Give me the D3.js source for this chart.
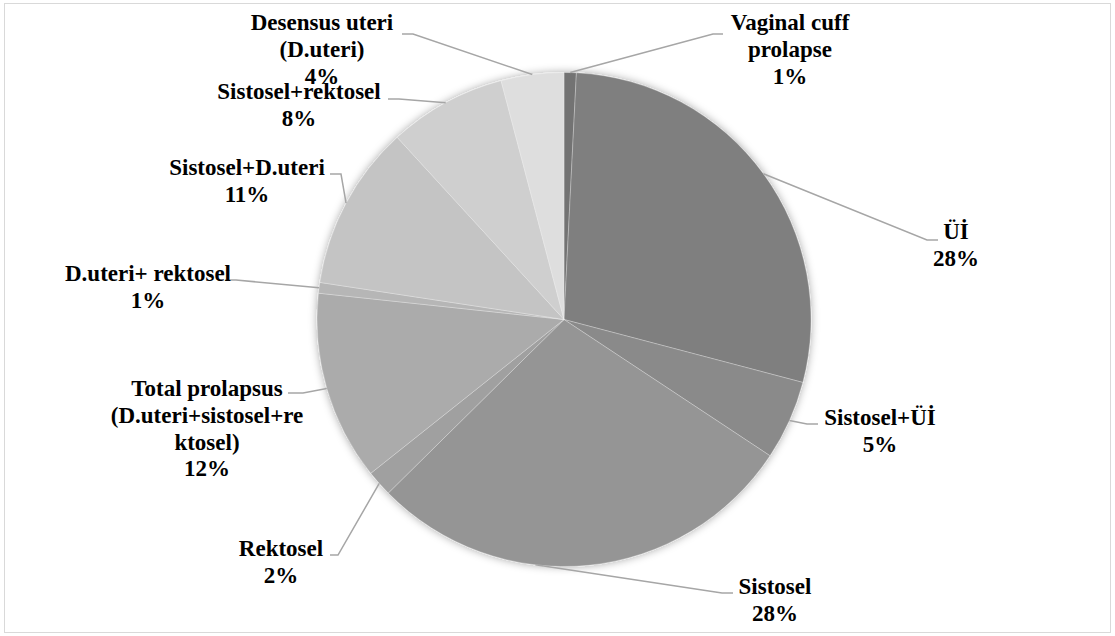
<!DOCTYPE html>
<html>
<head>
<meta charset="utf-8">
<script src="https://cdn.jsdelivr.net/npm/d3@7"></script>
<style>
  body { margin: 0; background: #fff; }
  svg { display: block; }
</style>
</head>
<body>
<script>
// Kategorien und Anteile (Prozent, im Uhrzeigersinn ab 12 Uhr)
const categories = [
  "Vaginal cuff\nprolapse",
  "Üİ",
  "Sistosel+Üİ",
  "Sistosel",
  "Rektosel",
  "Total prolapsus\n(D.uteri+sistosel+re\nktosel)",
  "D.uteri+ rektosel",
  "Sistosel+D.uteri",
  "Sistosel+rektosel",
  "Desensus uteri\n(D.uteri)"
];
const values = [0.8, 28.3, 5.2, 28.3, 1.7, 12.4, 0.7, 10.8, 7.7, 4.1];
const colors = ["#737373", "#7f7f7f", "#8a8a8a", "#959595", "#a0a0a0",
                "#ababab", "#b6b6b6", "#c4c4c4", "#cfcfcf", "#dedede"];

// Beschriftungs-Layout: Textmitte, erste Grundlinie, Anfang der Führungslinie, Knick,
// t = Anschlusspunkt auf dem Bogen (Anteil innerhalb des Segments)
const labelPos = [
  { cx: 790, y: 30,  sx: 723, sy: 34,  ex: 713 },
  { cx: 956, y: 239, sx: 938, sy: 240, ex: 927 },
  { cx: 880, y: 425, sx: 818, sy: 424, ex: 807 },
  { cx: 775, y: 594, sx: 733, sy: 593, ex: 722, t: 0.62 },
  { cx: 281, y: 556, sx: 330, sy: 555, ex: 338 },
  { cx: 207, y: 396, sx: 288, sy: 393, ex: 303 },
  { cx: 148, y: 281, sx: 225, sy: 280, ex: 236 },
  { cx: 247, y: 175, sx: 330, sy: 174, ex: 341 },
  { cx: 299, y: 99,  sx: 388, sy: 99,  ex: 399 },
  { cx: 322, y: 30,  sx: 402, sy: 34,  ex: 413 }
];

const width = 1115, height = 636;
const cx = 564, cy = 319.5, radius = 247;
const lineH = 26.8;
const fontFamily = "'Liberation Serif', 'DejaVu Serif', serif";

const svg = d3.select("body").append("svg")
  .attr("width", width)
  .attr("height", height);

// Rahmen
svg.append("rect")
  .attr("x", 4.5).attr("y", 3.5)
  .attr("width", 1106).attr("height", 629)
  .attr("fill", "#fff")
  .attr("stroke", "#d9d9d9")
  .attr("stroke-width", 1);

// Schatten
const defs = svg.append("defs");
const filter = defs.append("filter").attr("id", "shadow")
  .attr("x", "-10%").attr("y", "-10%").attr("width", "120%").attr("height", "120%");
filter.append("feDropShadow")
  .attr("dx", 0).attr("dy", 0)
  .attr("stdDeviation", 4)
  .attr("flood-color", "#000")
  .attr("flood-opacity", 0.35);

const data = categories.map((c, i) => ({ name: c, value: values[i], i: i }));
const total = d3.sum(values);

const pie = d3.pie().sort(null).value(d => d.value);
const arcs = pie(data);
const arc = d3.arc().innerRadius(0).outerRadius(radius);

const g = svg.append("g").attr("transform", `translate(${cx},${cy})`);

g.append("g")
  .attr("filter", "url(#shadow)")
  .selectAll("path")
  .data(arcs)
  .enter()
  .append("path")
  .attr("d", arc)
  .attr("fill", d => colors[d.data.i])
  .attr("stroke", "rgba(255,255,255,0.35)")
  .attr("stroke-width", 0.8);

// Führungslinien
svg.selectAll(".leader")
  .data(arcs)
  .enter()
  .append("polyline")
  .attr("class", "leader")
  .attr("fill", "none")
  .attr("stroke", "#a6a6a6")
  .attr("stroke-width", 1.5)
  .attr("points", d => {
    const p = labelPos[d.data.i];
    const t = p.t === undefined ? 0.5 : p.t;
    const a = d.startAngle + (d.endAngle - d.startAngle) * t;
    const px = cx + radius * Math.sin(a);
    const py = cy - radius * Math.cos(a);
    return [[p.sx, p.sy], [p.ex, p.sy], [px, py]].map(q => q.join(",")).join(" ");
  });

// Beschriftungen
const labels = svg.selectAll(".lbl")
  .data(arcs)
  .enter()
  .append("text")
  .attr("class", "lbl")
  .attr("text-anchor", "middle")
  .style("font-family", fontFamily)
  .style("font-weight", "bold")
  .style("font-size", "23px")
  .attr("fill", "#000");

labels.each(function (d) {
  const p = labelPos[d.data.i];
  const lines = d.data.name.split("\n");
  lines.push(Math.round(d.data.value / total * 100) + "%");
  d3.select(this).selectAll("tspan")
    .data(lines)
    .enter()
    .append("tspan")
    .attr("x", p.cx)
    .attr("y", (l, j) => p.y + j * lineH)
    .text(l => l);
});
</script>
</body>
</html>
